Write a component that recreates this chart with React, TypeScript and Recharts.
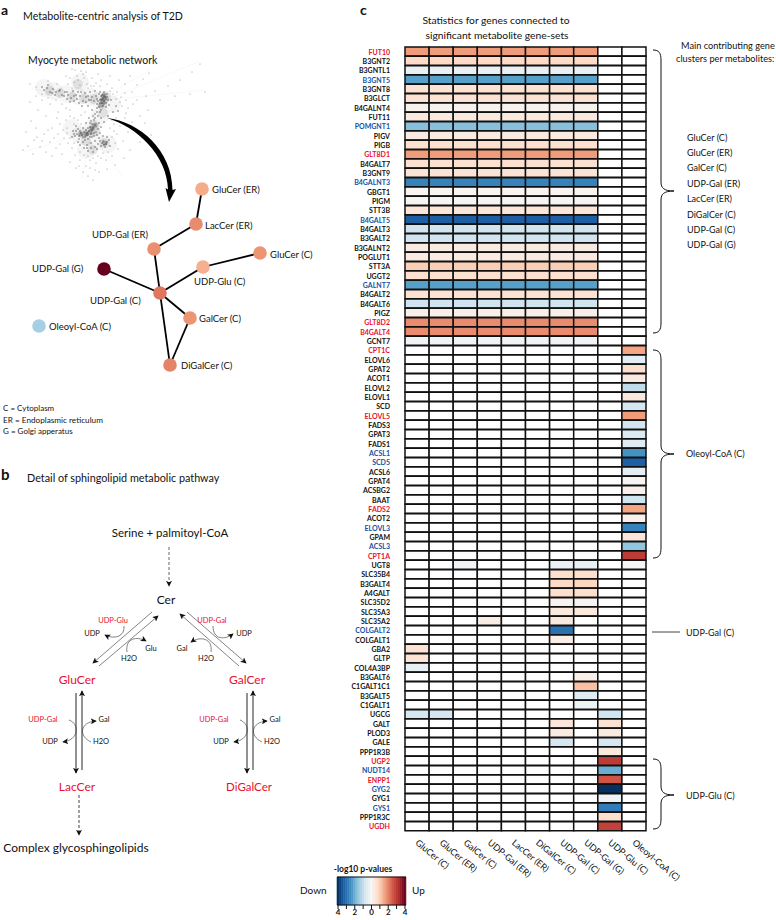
import { Bar, BarChart, Cell, ReferenceLine, Scatter, ScatterChart, XAxis, YAxis } from 'recharts';

// panel c: the gene / metabolite heatmap

const metabolites = [
  'GluCer (C)', 'GluCer (ER)', 'GalCer (C)', 'UDP-Gal (ER)', 'LacCer (ER)',
  'DiGalCer (C)', 'UDP-Gal (C)', 'UDP-Gal (G)', 'UDP-Glu (C)', 'Oleoyl-CoA (C)',
];

const sharedGenes = [
  'FUT10', 'B3GNT2', 'B3GNTL1', 'B3GNT5', 'B3GNT8', 'B3GLCT', 'B4GALNT4', 'FUT11',
  'POMGNT1', 'PIGV', 'PIGB', 'GLT8D1', 'B4GALT7', 'B3GNT9', 'B4GALNT3', 'GBGT1',
  'PIGM', 'STT3B', 'B4GALT5', 'B4GALT3', 'B3GALT2', 'B3GALNT2', 'POGLUT1', 'STT3A',
  'UGGT2', 'GALNT7', 'B4GALT2', 'B4GALT6', 'PIGZ', 'GLT8D2', 'B4GALT4', 'GCNT7',
];
// same value in the first eight columns
const sharedValues = [
  1.7, 0.8, -0.3, -2.2, 0.6, 0.6, 0.15, 0.4,
  -1.7, 0.35, 0.65, 1.7, 0.65, 0.55, -2.7, 0.1,
  0.05, 0.5, -3.3, -0.8, -0.8, 0.35, 0.35, 1.0,
  0.65, -2.2, 0.6, -0.8, 0.25, 1.9, 1.9, -0.12,
];

const oleoylGenes = [
  'CPT1C', 'ELOVL6', 'GPAT2', 'ACOT1', 'ELOVL2', 'ELOVL1', 'SCD', 'ELOVL5', 'FADS3',
  'GPAT3', 'FADS1', 'ACSL1', 'SCD5', 'ACSL6', 'GPAT4', 'ACSBG2', 'BAAT', 'FADS2',
  'ACOT2', 'ELOVL3', 'GPAM', 'ACSL3', 'CPT1A',
];
const oleoylValues = [
  1.6, -0.4, 0.7, 0.35, -1.0, 0.45, -0.7, 1.7, -0.75,
  -0.6, -0.5, -2.4, -3.3, -0.4, 0.05, 0.2, -0.8, 1.6,
  0.2, -2.7, 0.45, -1.6, 3.0,
];

const otherGenes = [
  'UGT8', 'SLC35B4', 'B3GALT4', 'A4GALT', 'SLC35D2', 'SLC35A3', 'SLC35A2', 'COLGALT2',
  'COLGALT1', 'GBA2', 'GLTP', 'COL4A3BP', 'B3GALT6', 'C1GALT1C1', 'B3GALT5', 'C1GALT1',
  'UGCG', 'GALT', 'PLOD3', 'GALE', 'PPP1R3B', 'UGP2', 'NUDT14', 'ENPP1', 'GYG2', 'GYG1',
  'GYS1', 'PPP1R3C', 'UGDH',
];
// [gene, column, value]
const otherCells: [string, number, number][] = [
  ['UGT8', 2, -0.15], ['UGT8', 6, -0.25], ['UGT8', 7, -0.3], ['UGT8', 9, 0.05],
  ['SLC35B4', 6, 0.7], ['SLC35B4', 7, 0.7], ['B3GALT4', 6, 0.8], ['B3GALT4', 7, 0.85],
  ['A4GALT', 6, 0.7], ['A4GALT', 7, 0.7], ['SLC35D2', 6, 0.12], ['SLC35D2', 7, 0.12],
  ['SLC35A3', 6, 0.4], ['SLC35A3', 7, 0.4], ['SLC35A2', 3, 0.3], ['SLC35A2', 6, 0.4],
  ['COLGALT2', 6, -3.0], ['COLGALT1', 6, 0.25], ['GBA2', 0, 0.6], ['GLTP', 0, 0.55],
  ['COL4A3BP', 0, -0.3], ['B3GALT6', 7, 0.25], ['C1GALT1C1', 7, 1.2], ['B3GALT5', 7, -0.5],
  ['C1GALT1', 7, -0.2], ['UGCG', 0, -0.7], ['UGCG', 1, -0.7], ['UGCG', 8, -0.8],
  ['GALT', 6, 0.5], ['GALT', 8, 0.6], ['PLOD3', 6, 0.35], ['PLOD3', 8, 0.35],
  ['GALE', 6, -0.7], ['GALE', 8, -0.7], ['PPP1R3B', 8, 0.4], ['UGP2', 8, 3.0],
  ['NUDT14', 8, -2.0], ['ENPP1', 8, 2.6], ['GYG2', 8, -4.0], ['GYG1', 8, -0.15],
  ['GYS1', 8, -2.8], ['PPP1R3C', 8, 0.7], ['UGDH', 8, 2.9],
];

const upGenes = ['FUT10', 'GLT8D1', 'GLT8D2', 'B4GALT4', 'CPT1C', 'ELOVL5', 'FADS2', 'CPT1A', 'UGP2', 'ENPP1', 'UGDH'];
const downGenes = ['B3GNT5', 'POMGNT1', 'B4GALNT3', 'B4GALT5', 'GALNT7', 'ACSL1', 'SCD5', 'ELOVL3', 'ACSL3', 'COLGALT2', 'NUDT14', 'GYG2', 'GYS1'];

const colorbarSteps = [
  -4, -3.75, -3.5, -3.25, -3, -2.75, -2.5, -2.25, -2, -1.75, -1.5, -1.25, -1, -0.75, -0.5, -0.25, 0,
  0.25, 0.5, 0.75, 1, 1.25, 1.5, 1.75, 2, 2.25, 2.5, 2.75, 3, 3.25, 3.5, 3.75, 4,
];
const colorbarTicks = [-4, -3, -2, -1, 0, 1, 2, 3, 4];

// panel a: metabolite network, in the left chart's coordinates

const nodeNames = ['GluCer (ER)', 'LacCer (ER)', 'UDP-Gal (ER)', 'GluCer (C)', 'UDP-Glu (C)', 'UDP-Gal (G)', 'UDP-Gal (C)', 'GalCer (C)', 'DiGalCer (C)', 'Oleoyl-CoA (C)'];
const nodeX = [202, 196, 154, 260, 203, 104, 160, 190, 170, 39];
const nodeY = [189, 224, 249, 253, 267, 269, 293, 318, 365, 326];
const nodeValues = [1.5, 1.9, 1.85, 1.8, 1.45, 4, 2.15, 1.8, 2.0, -1.35];
const edges: [string, string][] = [
  ['GluCer (ER)', 'LacCer (ER)'], ['LacCer (ER)', 'UDP-Gal (ER)'], ['UDP-Gal (ER)', 'UDP-Gal (C)'],
  ['UDP-Gal (G)', 'UDP-Gal (C)'], ['UDP-Gal (C)', 'UDP-Glu (C)'], ['UDP-Glu (C)', 'GluCer (C)'],
  ['UDP-Gal (C)', 'GalCer (C)'], ['GalCer (C)', 'DiGalCer (C)'], ['UDP-Gal (C)', 'DiGalCer (C)'],
];

// background hairball, estimated by eye
const hairballHalo: [number, number][] = [
  [100, 100], [90, 97], [78, 96], [66, 94], [54, 91], [44, 88], [80, 82], [100, 116], [92, 128], [80, 135],
  [96, 142], [108, 144], [86, 150], [112, 104], [72, 128],
];
const hairballCores: [number, number][] = [
  [104, 99], [102, 104], [106, 96], [94, 126], [90, 132], [83, 134], [95, 131], [105, 143],
  [86, 141], [72, 97], [60, 93], [84, 99], [93, 99], [78, 84], [93, 150], [50, 91], [103, 113],
];
const hairballHot: [number, number][] = [
  [104, 97], [103, 101], [101, 105], [92, 128], [90, 132], [86, 134], [81, 134], [105, 143], [95, 125],
];
const hairballDark: [number, number][] = [
  [101, 96], [103, 98], [105, 97], [104, 101], [102, 103], [106, 103], [100, 100], [108, 100], [103, 106], [99, 107],
  [106, 107], [101, 110], [97, 104], [97, 99], [109, 105], [104, 92], [100, 92], [107, 94], [111, 100], [96, 96],
  [94, 101], [92, 97], [89, 100], [86, 97], [83, 101], [80, 96], [77, 99], [74, 96], [71, 98], [68, 95],
  [65, 92], [62, 95], [59, 91], [56, 92], [53, 89], [50, 92], [47, 88], [44, 90], [42, 87], [85, 93],
  [78, 92], [73, 91], [90, 92], [95, 91], [70, 102], [82, 106], [88, 106], [92, 110], [95, 114], [98, 116],
  [94, 120], [92, 124], [90, 127], [93, 128], [89, 131], [87, 133], [91, 134], [84, 132], [82, 135], [80, 131],
  [77, 134], [85, 137], [88, 139], [92, 137], [96, 132], [98, 129], [95, 125], [99, 123], [101, 127], [83, 128],
  [78, 129], [75, 136], [79, 139], [83, 142], [87, 145], [91, 143], [95, 141], [99, 138], [103, 141], [106, 144],
  [109, 140], [105, 147], [101, 146], [97, 149], [93, 152], [88, 151], [84, 148], [80, 145], [110, 146], [107, 137],
  [73, 131], [76, 126], [86, 123], [89, 118], [101, 118], [104, 122], [108, 116], [113, 112], [116, 106], [118, 111],
  [102, 95], [104, 96], [106, 99], [102, 100], [104, 104], [100, 103], [98, 101], [105, 94], [103, 94], [101, 99],
  [107, 97], [99, 94], [97, 108], [100, 112], [97, 112], [95, 118], [93, 116], [91, 121], [90, 123], [88, 128],
  [86, 130], [92, 130], [94, 133], [88, 135], [90, 137], [86, 135], [81, 133], [79, 136], [83, 137], [85, 140],
  [76, 131], [74, 134], [72, 137], [78, 142], [94, 136], [97, 135], [100, 133], [103, 136], [102, 143], [104, 145],
  [100, 141], [98, 144], [107, 142], [95, 147], [91, 148], [87, 148], [60, 90], [64, 96], [55, 95], [48, 85],
  [52, 93], [67, 92], [76, 95], [81, 92], [88, 96], [91, 100], [86, 102], [79, 103], [74, 101], [67, 99],
];
const hairballLight: [number, number][] = [
  [81, 71], [77, 76], [84, 78], [74, 82], [80, 85], [87, 84], [72, 88], [68, 84], [91, 86], [96, 83],
  [101, 80], [107, 84], [112, 88], [117, 92], [121, 97], [126, 100], [122, 106], [128, 108], [132, 92], [137, 85],
  [143, 79], [149, 73], [125, 84], [130, 76], [119, 80], [137, 100], [146, 96], [155, 91], [168, 86], [180, 80],
  [192, 72], [200, 64], [160, 100], [175, 96], [190, 94], [205, 92], [148, 110], [140, 116], [132, 122], [125, 118],
  [120, 126], [128, 132], [136, 130], [117, 134], [123, 141], [114, 124], [118, 149], [112, 156], [106, 160], [101, 158],
  [96, 163], [90, 160], [86, 166], [83, 172], [88, 176], [80, 160], [75, 155], [72, 148], [68, 143], [64, 138],
  [60, 144], [56, 148], [50, 142], [46, 152], [40, 147], [34, 140], [28, 146], [23, 150], [33, 154], [52, 156],
  [62, 154], [70, 162], [76, 168], [44, 134], [36, 128], [52, 128], [60, 124], [66, 120], [58, 112], [50, 104],
  [42, 100], [36, 96], [30, 102], [38, 110], [46, 116], [62, 104], [70, 110], [74, 118], [67, 128], [31, 121],
  [107, 169], [115, 165], [99, 172], [93, 180], [145, 123], [151, 135], [140, 142], [130, 150], [124, 158], [26, 132],
  [36, 87], [30, 84], [48, 81], [57, 84], [66, 76], [72, 69], [86, 72], [92, 78], [98, 74], [110, 76],
  [83, 74], [78, 80], [75, 70], [70, 78], [88, 88], [94, 86], [100, 86], [113, 94], [116, 99], [120, 102],
  [112, 120], [116, 118], [110, 128], [114, 131], [112, 137], [115, 143], [108, 152], [103, 153], [98, 156], [93, 158],
  [88, 156], [84, 155], [80, 152], [74, 143], [70, 138], [67, 133], [63, 130], [58, 134], [54, 138], [48, 130],
  [74, 124], [70, 116], [66, 108], [56, 100], [48, 98], [42, 94], [110, 91], [125, 93], [133, 104], [126, 113],
  [37, 137], [42, 141], [57, 118], [81, 115], [85, 112], [78, 120], [81, 124], [90, 168], [95, 170], [79, 166],
];
const hairballRays: [number, number][][] = [
  [[106, 100], [205, 90]], [[106, 100], [198, 62]], [[102, 98], [150, 70]], [[95, 130], [24, 152]],
  [[90, 138], [82, 178]], [[95, 140], [122, 176]], [[100, 100], [78, 66]], [[80, 100], [30, 88]],
];

const rdBuStops = ['#053061', '#2166ac', '#4393c3', '#92c5de', '#d1e5f0', '#f7f7f7', '#fddbc7', '#f4a582', '#d6604d', '#b5302f', '#67001f'];

const heatColor = (v: number | null | undefined) => {
  if (v === null || v === undefined) return '#ffffff';
  const pos = ((Math.max(-4, Math.min(4, v)) + 4) / 8) * (rdBuStops.length - 1);
  const lo = Math.min(Math.floor(pos), rdBuStops.length - 2);
  const t = pos - lo;
  const part = (hex: string, i: number) => parseInt(hex.slice(1 + i * 2, 3 + i * 2), 16);
  const mix = [0, 1, 2].map((i) => Math.round(part(rdBuStops[lo], i) * (1 - t) + part(rdBuStops[lo + 1], i) * t));
  return `rgb(${mix.join(',')})`;
};

const genes = [...sharedGenes, ...oleoylGenes, ...otherGenes];

const cellValue = (gene: string, col: number): number | null => {
  const s = sharedGenes.indexOf(gene);
  if (s >= 0) return col < 8 ? sharedValues[s] : null;
  const o = oleoylGenes.indexOf(gene);
  if (o >= 0) return col === 9 ? oleoylValues[o] : null;
  const hit = otherCells.find((c) => c[0] === gene && c[1] === col);
  return hit ? hit[2] : null;
};

const heatRows = genes.map((gene) => {
  const row: Record<string, string | number> = { gene };
  metabolites.forEach((_, i) => (row[`c${i}`] = 1));
  return row;
});

const FONT = 'Lato, "Open Sans", sans-serif';

const geneColor = (g: string) => (upGenes.includes(g) ? '#e8112d' : downGenes.includes(g) ? '#1450a3' : '#111');

function GeneTick({ x, y, payload }: any) {
  return (
    <text x={x - 7} y={y} textAnchor="end" dominantBaseline="central" fontFamily={FONT} fontSize={7} fontWeight={700} fill={geneColor(payload.value)}>
      {payload.value}
    </text>
  );
}

function MetaboliteTick({ x, y, payload }: any) {
  const py = y + 2;
  return (
    <text x={x} y={py} transform={`rotate(40 ${x} ${py})`} textAnchor="start" dominantBaseline="central" fontFamily={FONT} fontSize={9} fill="#111">
      {metabolites[Math.round(payload.value - 0.5)]}
    </text>
  );
}

function T({ x, y, s = 10, c = '#111', a = 'start', w = 400, children }: any) {
  return (
    <text x={x} y={y} fontFamily={FONT} fontSize={s} fill={c} textAnchor={a} fontWeight={w} dominantBaseline="central">
      {children}
    </text>
  );
}

const brace = (top: number, mid: number, bot: number) =>
  `M653,${top} C659,${top} 661,${top + 3} 661,${top + 10} L661,${mid - 9} C661,${mid - 3} 664,${mid} 674,${mid} C664,${mid} 661,${mid + 3} 661,${mid + 9} L661,${bot - 10} C661,${bot - 3} 659,${bot} 653,${bot}`;

const dot = (r: number, fill: string, opacity = 1) => (p: any) => <circle cx={p.cx} cy={p.cy} r={r} fill={fill} opacity={opacity} />;
const asPoints = (list: [number, number][]) => list.map(([x, y]) => ({ x, y }));
const nodePoints = nodeNames.map((name, i) => ({ x: nodeX[i], y: nodeY[i], name, v: nodeValues[i] }));
const edgePoints = (e: [string, string]) => e.map((n) => nodePoints.find((p) => p.name === n)!);

function LeftChart() {
  return (
    <ScatterChart width={340} height={920} margin={{ top: 0, right: 0, bottom: 0, left: 0 }} style={{ position: 'absolute', left: 0, top: 0 }}>
      <XAxis type="number" dataKey="x" domain={[0, 340]} hide />
      <YAxis type="number" dataKey="y" domain={[0, 920]} reversed hide />
      {hairballRays.map((r, i) => (
        <Scatter key={`ray${i}`} data={asPoints(r)} line={{ stroke: '#f0f0f0', strokeWidth: 0.5 }} shape={() => <g />} isAnimationActive={false} />
      ))}
      <Scatter data={asPoints(hairballHalo)} shape={dot(9, '#777', 0.07)} isAnimationActive={false} />
      <Scatter data={asPoints(hairballCores)} shape={dot(5, '#555', 0.12)} isAnimationActive={false} />
      <Scatter data={asPoints(hairballHot)} shape={dot(2.6, '#333', 0.35)} isAnimationActive={false} />
      <Scatter data={asPoints(hairballLight)} shape={dot(0.5, '#555', 0.8)} isAnimationActive={false} />
      <Scatter data={asPoints(hairballDark)} shape={dot(0.75, '#222', 0.7)} isAnimationActive={false} />
      {edges.map((e, i) => (
        <Scatter key={`edge${i}`} data={edgePoints(e)} line={{ stroke: '#000', strokeWidth: 1.8 }} shape={() => <g />} isAnimationActive={false} />
      ))}
      <Scatter
        data={nodePoints}
        shape={(p: any) => <circle cx={p.cx} cy={p.cy} r={6.8} fill={heatColor(p.payload.v)} />}
        isAnimationActive={false}
      />
    </ScatterChart>
  );
}

function HeatChart() {
  return (
    <BarChart
      width={446}
      height={920}
      layout="vertical"
      data={heatRows}
      barCategoryGap={0}
      margin={{ top: 47, right: 130, bottom: 0, left: 0 }}
      style={{ position: 'absolute', left: 330, top: 0 }}
    >
      <XAxis
        type="number"
        domain={[0, 10]}
        ticks={metabolites.map((_, i) => i + 0.5)}
        orientation="bottom"
        height={89}
        axisLine={false}
        tickLine={false}
        interval={0}
        tick={<MetaboliteTick />}
      />
      <YAxis type="category" dataKey="gene" width={75} interval={0} axisLine={false} tickLine={false} tick={<GeneTick />} />
      {metabolites.map((_, col) => (
        <Bar key={col} dataKey={`c${col}`} stackId="heat" stroke="#111" strokeWidth={1.5} isAnimationActive={false}>
          {genes.map((g) => (
            <Cell key={g} fill={heatColor(cellValue(g, col))} />
          ))}
        </Bar>
      ))}
    </BarChart>
  );
}

function ColorbarChart() {
  return (
    <BarChart
      width={89}
      height={44}
      data={colorbarSteps.map((step) => ({ step, h: 1 }))}
      barCategoryGap={0}
      margin={{ top: 1, right: 10, bottom: 0, left: 10 }}
      style={{ position: 'absolute', left: 327, top: 876 }}
    >
      <XAxis
        dataKey="step"
        ticks={colorbarTicks}
        interval={0}
        height={15}
        tickSize={4}
        tickMargin={0}
        tickLine={{ stroke: '#111' }}
        axisLine={{ stroke: '#111' }}
        tick={{ fontSize: 8, fontFamily: FONT, fontWeight: 700, fill: '#111' }}
        tickFormatter={(v: number) => (v % 2 === 0 ? String(Math.abs(v)) : '')}
      />
      <YAxis domain={[0, 1]} hide />
      <Bar dataKey="h" isAnimationActive={false}>
        {colorbarSteps.map((s) => (
          <Cell key={s} fill={heatColor(s)} stroke={heatColor(s)} strokeWidth={0.6} />
        ))}
      </Bar>
      <ReferenceLine y={1} stroke="#111" />
    </BarChart>
  );
}

function Annotations() {
  const gray = '#666';
  const thin = { fill: 'none', stroke: '#333', strokeWidth: 0.6 };
  return (
    <svg width={776} height={920} style={{ position: 'absolute', left: 0, top: 0 }}>
      <defs>
        <marker id="ah" viewBox="0 0 8 8" refX={7} refY={4} markerWidth={6} markerHeight={6} markerUnits="userSpaceOnUse" orient="auto">
          <path d="M0,0 L8,4 L0,8 L2,4 Z" fill="#111" />
        </marker>
      </defs>

      {/* panel a */}
      <T x={1} y={9} s={14} w={700}>a</T>
      <T x={23} y={16} s={10.6}>Metabolite-centric analysis of T2D</T>
      <T x={28} y={60} s={10.5}>Myocyte metabolic network</T>
      <path d="M107,118 C140,122 172,150 172.5,190 L176,189 L169,202 L165.5,188 L168,189.5 C167,155 137,127 107,118 Z" fill="#000" />
      <T x={212} y={189} s={9.5}>GluCer (ER)</T>
      <T x={205} y={225} s={9.5}>LacCer (ER)</T>
      <T x={92} y={234} s={9.5}>UDP-Gal (ER)</T>
      <T x={270} y={254} s={9.5}>GluCer (C)</T>
      <T x={194} y={281} s={9.5}>UDP-Glu (C)</T>
      <T x={32} y={268} s={9.5}>UDP-Gal (G)</T>
      <T x={90} y={300} s={9.5}>UDP-Gal (C)</T>
      <T x={199} y={318} s={9.5}>GalCer (C)</T>
      <T x={181} y={365} s={9.5}>DiGalCer (C)</T>
      <T x={49} y={326} s={9.5}>Oleoyl-CoA (C)</T>
      <T x={3} y={408} s={8}>C = Cytoplasm</T>
      <T x={3} y={420} s={8.2}>ER = Endoplasmic reticulum</T>
      <T x={3} y={431} s={8}>G = Golgi apperatus</T>

      {/* panel b */}
      <T x={1} y={474} s={15} w={700}>b</T>
      <T x={27} y={477} s={10.8}>Detail of sphingolipid metabolic pathway</T>
      <T x={170} y={532} s={11.5} a="middle">Serine + palmitoyl-CoA</T>
      <line x1={169} y1={547} x2={169} y2={586} stroke={gray} strokeWidth={1} strokeDasharray="3 2" markerEnd="url(#ah)" />
      <T x={166} y={599} s={12} a="middle">Cer</T>
      <line x1={152} y1={612} x2={93} y2={663} {...thin} markerEnd="url(#ah)" />
      <line x1={99} y1={666} x2={158} y2={616} {...thin} markerEnd="url(#ah)" />
      <line x1={187} y1={612} x2={246} y2={663} {...thin} markerEnd="url(#ah)" />
      <line x1={239} y1={666} x2={180} y2={614} {...thin} markerEnd="url(#ah)" />
      <T x={77} y={679} s={12} c="#e8112d" a="middle">GluCer</T>
      <T x={247} y={679} s={12} c="#e8112d" a="middle">GalCer</T>
      <line x1={76} y1={693} x2={76} y2={773} stroke="#777" strokeWidth={1.6} markerEnd="url(#ah)" />
      <line x1={82} y1={770} x2={82} y2={691} stroke="#111" strokeWidth={0.9} markerEnd="url(#ah)" />
      <line x1={247} y1={693} x2={247} y2={773} stroke="#777" strokeWidth={1.6} markerEnd="url(#ah)" />
      <line x1={253} y1={770} x2={253} y2={691} stroke="#111" strokeWidth={0.9} markerEnd="url(#ah)" />
      <T x={77} y={786} s={12} c="#e8112d" a="middle">LacCer</T>
      <T x={249} y={786} s={11.5} c="#e8112d" a="middle">DiGalCer</T>
      <line x1={79} y1={795} x2={79} y2={835} stroke="#111" strokeWidth={0.8} strokeDasharray="3 2" markerEnd="url(#ah)" />
      <T x={76} y={847} s={12} a="middle">Complex glycosphingolipids</T>

      <T x={113} y={620} s={7.5} c="#e8112d" a="middle">UDP-Glu</T>
      <T x={92} y={633} s={7.5} a="middle">UDP</T>
      <T x={151} y={648} s={7.5} a="middle">Glu</T>
      <T x={129} y={658} s={7.5} a="middle">H2O</T>
      <path d="M124,626 C125,636 115,640 105,635" {...thin} markerEnd="url(#ah)" />
      <path d="M127,652 C125,638 137,636 146,641" {...thin} markerEnd="url(#ah)" />

      <T x={212} y={620} s={7.5} c="#e8112d" a="middle">UDP-Gal</T>
      <T x={244} y={633} s={7.5} a="middle">UDP</T>
      <T x={182} y={648} s={7.5} a="middle">Gal</T>
      <T x={206} y={658} s={7.5} a="middle">H2O</T>
      <path d="M213,626 C213,640 225,640 233,634" {...thin} markerEnd="url(#ah)" />
      <path d="M211,652 C213,638 200,636 191,642" {...thin} markerEnd="url(#ah)" />

      <T x={43} y={719} s={7.5} c="#e8112d" a="middle">UDP-Gal</T>
      <T x={104} y={719} s={7.5} a="middle">Gal</T>
      <T x={50} y={741} s={7.5} a="middle">UDP</T>
      <T x={101} y={741} s={7.5} a="middle">H2O</T>
      <path d="M69,720 C80,724 79,740 63,742" {...thin} markerEnd="url(#ah)" />
      <path d="M91,742 C78,736 80,722 96,721" {...thin} markerEnd="url(#ah)" />

      <T x={214} y={719} s={7.5} c="#e8112d" a="middle">UDP-Gal</T>
      <T x={275} y={719} s={7.5} a="middle">Gal</T>
      <T x={221} y={741} s={7.5} a="middle">UDP</T>
      <T x={272} y={741} s={7.5} a="middle">H2O</T>
      <path d="M240,720 C251,724 250,740 234,742" {...thin} markerEnd="url(#ah)" />
      <path d="M262,742 C249,736 251,722 267,721" {...thin} markerEnd="url(#ah)" />

      {/* panel c */}
      <T x={360} y={9} s={14} w={700}>c</T>
      <T x={496} y={20} s={10.3} a="middle">Statistics for genes connected to</T>
      <T x={497} y={35} s={10.3} a="middle">significant metabolite gene-sets</T>
      <T x={681} y={45} s={9.2}>Main contributing gene</T>
      <T x={676} y={58} s={9.2}>clusters per metabolites:</T>
      {['GluCer (C)', 'GluCer (ER)', 'GalCer (C)', 'UDP-Gal (ER)', 'LacCer (ER)', 'DiGalCer (C)', 'UDP-Gal (C)', 'UDP-Gal (G)'].map((m, i) => (
        <T key={m} x={687} y={137 + i * 15.4} s={9}>{m}</T>
      ))}
      <path d={brace(50, 191, 333)} fill="none" stroke="#111" strokeWidth={1} />
      <path d={brace(350, 454, 558)} fill="none" stroke="#111" strokeWidth={1} />
      <path d={brace(759, 795, 829)} fill="none" stroke="#111" strokeWidth={1} />
      <line x1={652} y1={632} x2={680} y2={632} stroke="#111" strokeWidth={0.8} />
      <T x={686} y={453} s={9}>Oleoyl-CoA (C)</T>
      <T x={686} y={632} s={9}>UDP-Gal (C)</T>
      <T x={686} y={795} s={9}>UDP-Glu (C)</T>
      <T x={363} y={869} s={8.5} a="middle" w={700}>-log10 p-values</T>
      <T x={300} y={890} s={10}>Down</T>
      <T x={412} y={890} s={10}>Up</T>
    </svg>
  );
}

export default function App() {
  return (
    <div style={{ position: 'absolute', left: 0, top: 0, width: 776, height: 920, background: '#fff', overflow: 'hidden' }}>
      <LeftChart />
      <HeatChart />
      <ColorbarChart />
      <Annotations />
    </div>
  );
}
